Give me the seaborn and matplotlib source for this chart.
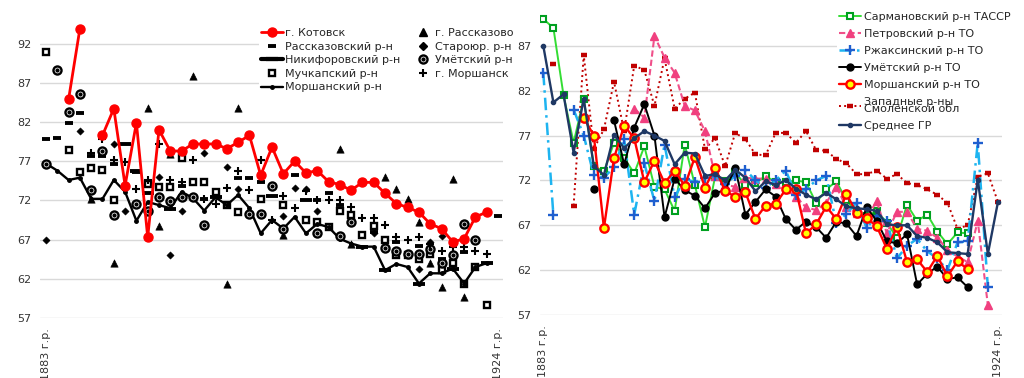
import numpy as np
import matplotlib
matplotlib.use("Agg")
import matplotlib.pyplot as plt
from matplotlib.lines import Line2D
import seaborn as sns

nan = np.nan

# ---------------- left panel data (41 cohorts) ----------------
left_labels = ["1883 г.р.", "1924 г.р."]
kotovsk = [nan, nan, 84.9, 93.9, nan, 80.3, 83.7, 73.9, 81.9, 67.3, 81.0, 78.3, 78.3, 79.2, 79.2,
           79.2, 78.6, 79.4, 80.3, 75.2, 78.8, 75.4, 77.0, 75.5, 75.8, 74.4, 74.0, 73.3, 74.3, 74.3,
           72.9, 71.6, 71.1, 70.5, 69.0, 68.4, 66.7, 67.1, 69.9, 70.5, nan]
rasskazovsky = [79.8, 80.0, 81.9, 83.2, 77.6, 77.6, 76.6, nan, 75.6, 74.1, nan, nan, 73.8, nan, 72.2,
                nan, nan, 74.8, 74.8, 74.3, nan, 71.3, 75.3, nan, 72.0, 73.0, 71.4, 70.2, nan, 68.0,
                nan, 66.7, nan, 66.2, 65.0, 64.5, nan, 65.4, 63.5, nan, 70.0]
nikiforovsky = [nan, nan, nan, nan, nan, nan, nan, 79.2, 75.8, 72.9, nan, 70.9, nan, nan, nan,
                72.4, nan, nan, nan, nan, 72.5, nan, nan, 72.0, nan, nan, nan, nan, 66.1, nan,
                63.1, nan, nan, 61.4, nan, nan, 63.3, nan, nan, 64.0, nan]
muchkap = [90.9, nan, 78.4, 75.6, 76.1, 75.9, 72.0, nan, nan, 74.1, 73.7, 73.7, 77.4, 74.4, 74.4,
           73.1, 71.4, 70.5, nan, 72.2, nan, 71.4, nan, 69.5, 69.3, 68.6, 70.6, 70.2, 67.6, 68.7,
           67.0, 65.0, 65.0, 64.5, 65.2, 63.1, 64.0, 61.4, 63.5, 58.6, nan]
morshansky_rn = [76.7, 75.8, 74.6, 74.9, 72.2, 72.2, 74.6, 73.1, 69.4, 71.8, 71.4, 71.0, 73.1, 72.3,
                 70.7, 72.4, 71.4, 72.7, 71.0, 67.8, 69.5, 68.4, 69.9, 67.8, 69.0, 68.6, 67.1, 66.5,
                 66.1, 66.1, 63.1, 63.9, 63.5, 61.4, 62.7, 62.7, 63.3, 61.4, 63.5, 64.0, nan]
rasskazovo = [nan, nan, nan, nan, 72.2, nan, 64.0, nan, nan, 83.8, 68.7, 77.9, nan, 87.9, nan,
              nan, 61.3, 83.8, nan, nan, nan, 67.6, nan, nan, nan, nan, 78.5, 66.5, nan, nan,
              75.0, 73.5, 72.2, 69.2, 64.0, 61.0, 74.7, 59.7, nan, nan, nan]
staroyur = [67.0, nan, nan, 80.9, nan, nan, 79.2, 70.6, nan, nan, 75.0, 65.0, 70.7, 79.2, 78.0,
            nan, 76.3, 73.4, nan, nan, nan, 70.0, 73.6, 73.5, 70.7, nan, nan, 73.3, nan, 67.8,
            nan, nan, nan, 63.3, 66.7, 67.4, nan, nan, nan, nan, nan]
umet = [76.6, 88.6, 83.3, 85.6, 73.3, 78.3, 70.2, nan, 71.5, 70.7, 72.4, 71.9, 72.4, 72.4, 68.8,
        nan, nan, nan, 70.3, 70.3, 73.9, 68.3, nan, nan, 67.9, nan, 67.5, 69.3, nan, nan,
        65.9, 65.6, 65.2, 65.2, 65.8, 64.0, 65.0, 69.0, 67.0, nan, nan]
morshansk = [nan, nan, nan, nan, 78.0, 79.8, 77.1, 76.9, 73.5, 74.6, 79.2, 74.6, 74.3, 77.1, 72.2,
             71.6, 73.6, 75.8, 73.3, 77.1, 69.5, 72.6, 71.0, 73.2, 72.1, 72.1, 72.1, 71.1, 69.8, 69.8,
             68.8, 67.3, 67.0, 67.3, 66.5, 65.6, 66.0, 66.1, 65.6, 65.2, nan]

# ---------------- right panel data (46 cohorts) ----------------
right_labels = ["1883 г.р.", "1924 г.р."]
sarmanov = [90.0, 89.0, 81.5, 76.2, 81.1, 73.6, 73.0, 76.2, 74.5, 72.8, 75.8, 71.3, 71.0, 68.6, 76.0,
            71.5, 66.8, 72.4, 71.9, 72.9, 71.5, 71.7, 72.5, 71.8, 71.8, 72.0, 71.8, 69.5, 71.0, 71.9,
            69.8, 68.4, 68.0, 68.6, 67.3, 65.6, 69.3, 67.5, 68.2, 66.3, 64.9, 66.2, 66.1, nan, nan, nan]
petrov = [nan, nan, nan, nan, nan, nan, nan, nan, nan, 80.0, 79.0, 88.1, 85.7, 84.0, 80.3,
          79.8, 77.5, 72.5, 71.5, 71.3, 72.3, 72.2, 72.2, 71.6, 71.0, 70.2, 69.0, 68.7, 69.5, 71.3,
          69.0, 68.4, 67.8, 69.7, 66.1, 68.5, 68.5, 66.6, 66.4, 65.6, 64.3, 63.5, 62.9, 67.5, 58.1, nan]
rzhaksa = [84.0, 68.1, nan, 79.9, 77.0, 72.6, 72.3, 73.5, 76.6, 68.2, 73.9, 69.7, 76.0, 70.1, 72.2,
           71.8, 72.3, 72.5, 71.6, 72.5, 73.2, 72.0, 71.2, 72.0, 73.1, 70.4, 71.0, 72.0, 72.5, 67.2,
           68.3, 69.5, 66.7, 68.0, 67.5, 63.3, 64.7, 65.5, 64.1, 63.3, 62.0, 65.1, 65.2, 76.2, 60.1, nan]
umet_to = [nan, nan, nan, nan, nan, 71.1, nan, 78.7, 73.8, 77.9, 80.5, 77.0, 67.9, 72.2, 70.9,
           70.3, 68.9, 70.6, 70.9, 73.4, 68.2, 69.6, 71.0, 70.2, 67.7, 66.5, 67.4, 66.8, 65.6, 67.4,
           67.2, 65.8, 69.0, 67.5, 65.2, 65.0, 66.0, 60.4, 61.6, 62.4, 61.0, 61.2, 60.1, nan, nan, nan]
morsh_to = [nan, nan, nan, nan, 79.0, 77.0, 66.7, 74.5, 78.1, 76.7, 71.8, 74.2, 71.7, 73.1, 71.4,
            74.6, 71.2, 73.4, 70.8, 70.2, 70.7, 67.7, 69.2, 69.4, 71.0, 71.0, 66.1, 67.1, 69.1, 67.7,
            70.5, 68.4, 67.8, 66.9, 64.4, 66.8, 62.9, 63.2, 61.8, 63.6, 61.3, 63.0, 62.1, nan, nan, nan]
zapad = [nan, 85.0, nan, 69.2, 86.0, 75.5, 77.7, 83.0, 77.5, 84.8, 84.3, 80.3, 85.6, 80.0, 81.1,
         81.8, 75.5, 76.7, 73.6, 77.3, 76.6, 74.9, 74.8, 77.3, 77.3, 76.2, 77.5, 75.4, 75.3, 74.4,
         73.9, 72.7, 72.7, 73.1, 72.2, 72.7, 71.7, 71.5, 71.0, 70.4, 69.5, 66.6, 67.0, 72.4, 72.8, 69.6]
mean_gr = [87.0, 80.7, 81.6, 75.1, 81.1, 73.6, 72.6, 77.1, 75.6, 76.7, 77.5, 77.0, 76.4, 73.8, 75.1,
           75.0, 72.5, 72.7, 72.0, 73.2, 72.3, 70.8, 71.9, 71.5, 72.0, 71.1, 70.4, 69.9, 70.6, 69.9,
           69.1, 68.9, 68.8, 68.6, 67.1, 67.0, 67.0, 65.8, 65.6, 65.1, 64.0, 63.9, 63.8, 72.1, 63.8, 69.6]

sns.set_theme(style="white")
plt.rcParams["font.family"] = ["DejaVu Sans"]

fig = plt.figure(figsize=(10.24, 3.78), dpi=100)
ax1 = fig.add_axes([40 / 1024, 60 / 378, 463 / 1024, 310 / 378])
ax2 = fig.add_axes([539.5 / 1024, 63 / 378, 462 / 1024, 309.5 / 378])

xl = np.arange(len(kotovsk))
xr = np.arange(len(mean_gr))

# -------------------------------
# left panel
# -------------------------------
h_kot, = ax1.plot(xl, kotovsk, color="#FF0000", lw=2, marker="o", ms=6.5, zorder=6)
h_ras, = ax1.plot(xl, rasskazovsky, ls="none", marker="_", ms=6, mew=2.8, color="black")
h_nik, = ax1.plot(xl, nikiforovsky, ls="none", marker="_", ms=8, mew=2.8, color="black")
h_muc, = ax1.plot(xl, muchkap, ls="none", marker="s", ms=5, mfc="white", mec="black", mew=1.7)
h_mrn, = ax1.plot(xl, morshansky_rn, color="black", lw=1.7, marker="o", ms=2.5)
sns.scatterplot(x=xl, y=rasskazovo, marker="^", s=28, color="black", edgecolor="black", ax=ax1)
sns.scatterplot(x=xl, y=staroyur, marker="D", s=14, color="black", edgecolor="black", ax=ax1)
h_um1, = ax1.plot(xl, umet, ls="none", marker="o", ms=5.8, mfc="white", mec="black", mew=1.7)
h_um2, = ax1.plot(xl, umet, ls="none", marker="o", ms=2, color="black")
h_mor, = ax1.plot(xl, morshansk, ls="none", marker="+", ms=6, mew=1.5, color="black")

h_rso = Line2D([], [], ls="none", marker="^", ms=5.5, color="black")
h_sta = Line2D([], [], ls="none", marker="D", ms=4, color="black")
h_nik_leg = Line2D([], [], color="black", lw=3, marker="_", ms=9, mew=3)

leg1 = ax1.legend([h_kot, h_ras, h_nik_leg, h_muc, h_mrn, h_rso, h_sta, (h_um1, h_um2), h_mor],
                  ["г. Котовск", "Рассказовский р-н", "Никифоровский р-н", "Мучкапский р-н",
                   "Моршанский р-н", "г. Рассказово", "Староюр. р-н", "Умётский р-н", "г. Моршанск"],
                  ncol=2, loc="upper left", bbox_to_anchor=(259 / 1024, 1 - 26 / 378),
                  bbox_transform=fig.transFigure, fontsize=8, frameon=True, facecolor="white",
                  edgecolor="none", framealpha=1, borderpad=0.2, labelspacing=0.32,
                  handlelength=2.0, handletextpad=0.15, columnspacing=1.0, borderaxespad=0)

ax1.set_xlim(-0.53, 40.44)
ax1.set_ylim(57, 96.54)
ax1.set_xticks([0, 40])
ax1.set_xticklabels(left_labels, rotation=90)

# -------------------------------
# right panel
# -------------------------------
h_zap, = ax2.plot(xr, zapad, color="#C00000", lw=1.4, ls=":", marker="_", ms=5, mew=3.2)
h_sar, = ax2.plot(xr, sarmanov, color="#33DD33", lw=1.4, marker="s", ms=5,
                  mfc="white", mec="#00A020", mew=1.5)
h_pet, = ax2.plot(xr, petrov, color="#F0508A", lw=1.5, ls=(0, (3, 1.5)), marker="^", ms=5.5,
                  mfc="#F0407F", mec="#F0407F")
h_rzh, = ax2.plot(xr, rzhaksa, color="#1EB4F0", lw=1.8, ls=(0, (5, 2, 1, 2)), marker="+", ms=6.5,
                  mew=1.7, mec="#1F5FCF")
h_umt, = ax2.plot(xr, umet_to, color="black", lw=1.4, marker="o", ms=5)
h_mst, = ax2.plot(xr, morsh_to, color="#FF0000", lw=1.7, marker="o", ms=6,
                  mfc="#FFFF00", mec="#FF0000", mew=1.7)
h_mgr, = ax2.plot(xr, mean_gr, color="#1F3864", lw=1.7, marker="o", ms=3)

leg2 = ax2.legend([h_sar, h_pet, h_rzh, h_umt, h_mst, h_zap, h_mgr],
                  ["Сармановский р-н ТАССР", "Петровский р-н ТО", "Ржаксинский р-н ТО",
                   "Умётский р-н ТО", "Моршанский р-н ТО", "Западные р-ны\nСмоленской обл",
                   "Среднее ГР"],
                  loc="upper left", bbox_to_anchor=(837 / 1024, 1 - 10 / 378),
                  bbox_transform=fig.transFigure, fontsize=8, frameon=True, facecolor="white",
                  edgecolor="none", framealpha=1, borderpad=0.2, labelspacing=0.62,
                  handlelength=2.0, handletextpad=0.2, borderaxespad=0)
leg2.get_texts()[5].set_linespacing(0.7)

ax2.set_xlim(-0.376, 45.35)
ax2.set_ylim(57, 91.5)
ax2.set_xticks([0, 45])
ax2.set_xticklabels(right_labels, rotation=90)

# common styling
for ax, top in ((ax1, 92), (ax2, 87)):
    ax.set_yticks(np.arange(57, top + 1, 5))
    ax.yaxis.grid(True, color="#D9D9D9", lw=1)
    ax.xaxis.grid(False)
    ax.set_axisbelow(True)
    for s in ax.spines.values():
        s.set_visible(False)
    ax.tick_params(axis="both", length=0, labelsize=8, colors="#333333", pad=6)
    ax.tick_params(axis="x", pad=7)
    ax.set_xlabel("")
    ax.set_ylabel("")

fig.savefig("out.png", dpi=100)
